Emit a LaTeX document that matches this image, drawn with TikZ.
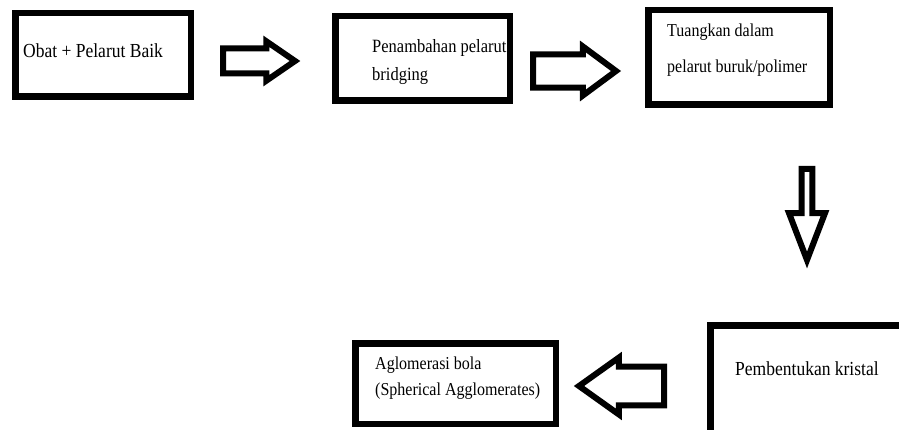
\documentclass[tikz,border=0pt]{standalone}
\usepackage{fontspec}
\setmainfont{Liberation Serif}[FakeStretch=0.88]
\usetikzlibrary{shapes.arrows}

\begin{document}
\begin{tikzpicture}[
  x=1pt,y=-1pt,
  font=\fontsize{18.75}{28}\selectfont,
  box/.style={draw,line width=6.5pt,inner sep=0pt},
  txt/.style={anchor=base west,align=left,inner sep=0pt},
  blk/.style={draw,single arrow,line width=6pt,inner xsep=0pt,line join=miter,anchor=tail}
]
\useasboundingbox (0,0) rectangle (899,430);
\clip (0,0) rectangle (899,430);

% kotak proses
\node[box,minimum width=175.5pt,minimum height=83.5pt] (obat) at (103,55) {};
\node[box,minimum width=174.5pt,minimum height=84.5pt] (tambah) at (422.5,58.5) {};
\node[box,minimum width=181.5pt,minimum height=94.5pt] (tuang) at (739,57.5) {};
\node[box,minimum width=260pt,minimum height=150pt] (kristal) at (840.5,400.5) {};
\node[box,minimum width=200.5pt,minimum height=80.5pt] (bola) at (455.5,383.5) {};

% teks (base = baris terakhir)
\node[txt,font=\fontsize{19.9}{28}\selectfont] (obat-txt) at (23,58) {Obat + Pelarut Baik};
\node[txt] (tambah-txt) at (372,81) {Penambahan pelarut\\bridging};
\node[txt,font=\fontsize{18.2}{36}\selectfont] (tuang-txt) at (667,73) {Tuangkan dalam\\pelarut buruk/polimer};
\node[txt,font=\fontsize{19.9}{28}\selectfont] (kristal-txt) at (735,375) {Pembentukan kristal};
\node[txt,font=\fontsize{18.2}{26}\selectfont] (bola-txt) at (375,395) {Aglomerasi bola\\(Spherical Agglomerates)};

% panah blok
\node[blk,inner ysep=9.5pt,minimum height=72pt,minimum width=37pt,single arrow tip angle=69] (p1) at (220,61) {};
\node[blk,inner ysep=12pt,minimum height=83pt,minimum width=49pt,single arrow tip angle=73] (p2) at (530,71) {};
\node[blk,inner ysep=6pt,minimum height=91pt,minimum width=36pt,single arrow tip angle=42,shape border rotate=270] (p3) at (807,166) {};
\node[blk,inner ysep=12pt,minimum height=85pt,minimum width=57pt,single arrow tip angle=71,shape border rotate=180] (p4) at (667,386) {};
\end{tikzpicture}
\end{document}
